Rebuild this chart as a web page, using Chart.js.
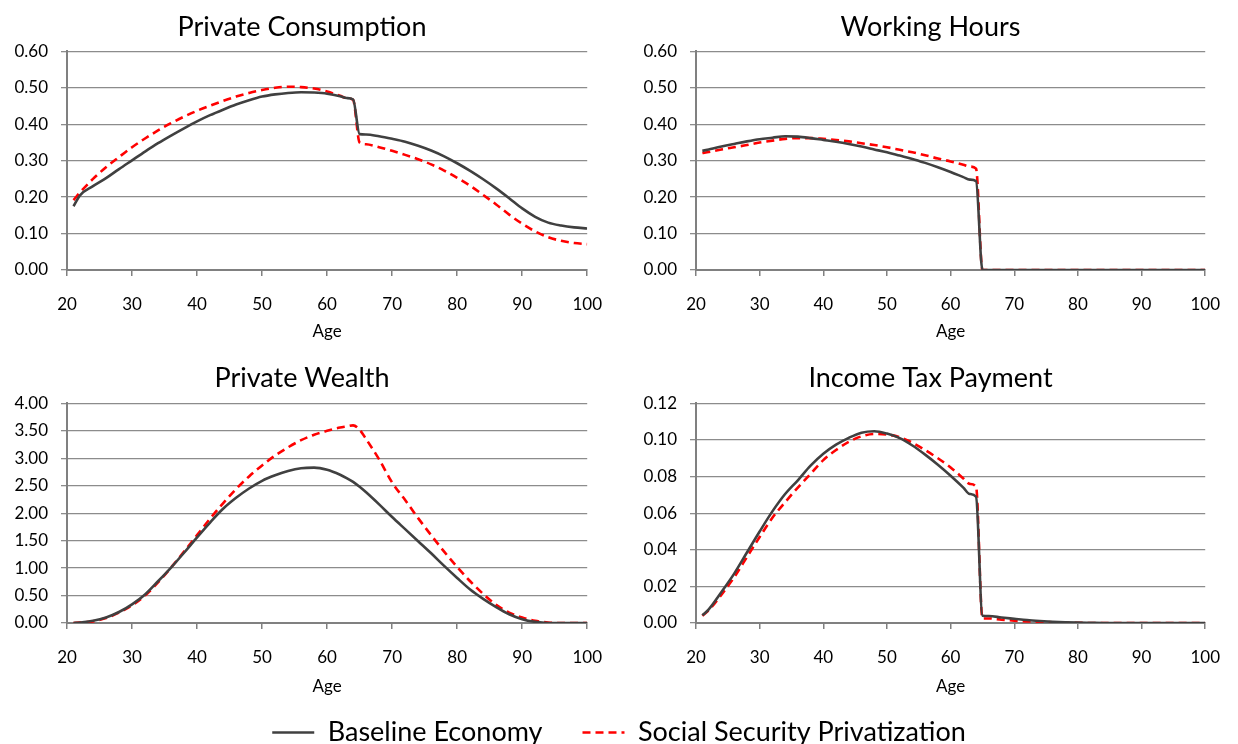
<!DOCTYPE html>
<html>
<head>
<meta charset="utf-8">
<script src="https://cdn.jsdelivr.net/npm/chart.js@4.4.1/dist/chart.umd.min.js"></script>
<style>
  body { margin: 0; background: #fff; width: 1238px; height: 744px; overflow: hidden; position: relative; }
  canvas { position: absolute; }
</style>
</head>
<body>
<canvas id="c1" width="608" height="350" style="left:12px;top:0"></canvas>
<canvas id="c2" width="598" height="350" style="left:640px;top:0"></canvas>
<canvas id="c3" width="608" height="355" style="left:12px;top:350px"></canvas>
<canvas id="c4" width="598" height="355" style="left:640px;top:350px"></canvas>
<canvas id="leg" width="1238" height="65" style="left:0;top:679px"></canvas>
<script>
const ages = [21,22,24,26,28,30,32,34,36,38,40,42,44,46,48,50,52,54,56,58,60,62,63,64,
              65,66,68,70,72,74,76,78,80,82,84,86,88,90,92,94,96,98,100];

const seriesNames = ["Baseline Economy", "Social Security Privatization"];

// Private Consumption
const consBase = [0.175,0.205,0.230,0.252,0.277,0.301,0.325,0.348,0.369,0.389,0.408,0.425,0.440,0.454,0.466,0.476,0.482,0.486,0.488,0.487,0.484,0.477,0.472,0.468,
                  0.373,0.372,0.367,0.360,0.352,0.341,0.328,0.312,0.293,0.272,0.249,0.224,0.197,0.169,0.146,0.130,0.122,0.117,0.114];
const consPriv = [0.192,0.213,0.250,0.282,0.310,0.337,0.361,0.383,0.403,0.421,0.437,0.451,0.464,0.476,0.486,0.494,0.500,0.503,0.502,0.498,0.490,0.478,0.472,0.467,
                  0.350,0.345,0.337,0.327,0.316,0.304,0.290,0.273,0.253,0.231,0.206,0.180,0.152,0.127,0.106,0.090,0.080,0.074,0.071];

// Working Hours
const hoursBase = [0.327,0.331,0.339,0.346,0.353,0.359,0.363,0.367,0.366,0.362,0.357,0.352,0.346,0.339,0.331,0.323,0.314,0.305,0.294,0.282,0.269,0.255,0.248,0.244,
                   0,0,0,0,0,0,0,0,0,0,0,0,0,0,0,0,0,0,0];
const hoursPriv = [0.321,0.324,0.331,0.337,0.343,0.350,0.355,0.360,0.362,0.362,0.360,0.357,0.353,0.348,0.343,0.337,0.330,0.323,0.315,0.306,0.298,0.289,0.284,0.278,
                   0,0,0,0,0,0,0,0,0,0,0,0,0,0,0,0,0,0,0];

// Private Wealth
const wealthBase = [0.00,0.01,0.04,0.10,0.20,0.34,0.52,0.76,1.01,1.28,1.56,1.83,2.08,2.28,2.45,2.59,2.69,2.77,2.82,2.83,2.79,2.70,2.64,2.57,
                    2.48,2.38,2.16,1.93,1.71,1.49,1.27,1.04,0.82,0.61,0.44,0.29,0.16,0.07,0.02,0.00,0,0,0];
const wealthPriv = [0.00,0.01,0.03,0.09,0.19,0.32,0.50,0.74,1.01,1.30,1.60,1.90,2.18,2.44,2.67,2.87,3.05,3.20,3.33,3.43,3.50,3.56,3.58,3.60,
                    3.52,3.35,2.98,2.56,2.24,1.91,1.60,1.30,1.02,0.76,0.53,0.33,0.19,0.10,0.04,0.01,0,0,0];

// Income Tax Payment
const taxBase = [0.0042,0.0075,0.0170,0.0270,0.0385,0.0500,0.0610,0.0705,0.0780,0.0860,0.0925,0.0975,0.1012,0.1040,0.1048,0.1035,0.1010,0.0970,0.0920,0.0865,0.0805,0.0740,0.0705,0.0690,
                 0.0040,0.0038,0.0030,0.0023,0.0016,0.0011,0.0007,0.0004,0.0002,0.0001,0,0,0,0,0,0,0,0,0];
const taxPriv = [0.0040,0.0070,0.0155,0.0250,0.0360,0.0470,0.0575,0.0660,0.0740,0.0815,0.0890,0.0945,0.0990,0.1020,0.1033,0.1030,0.1015,0.0985,0.0945,0.0900,0.0850,0.0790,0.0760,0.0745,
                 0.0025,0.0025,0.0018,0.0013,0.0009,0.0006,0.0004,0.0002,0.0001,0,0,0,0,0,0,0,0,0,0];

const FONT = "Lato, 'Open Sans', sans-serif";
const GRID = "#8c8c8c";
const AXIS = "#808080";
const BLACK = "#404040";
const RED = "#ff0000";
const PLOT_W = 525;

function pts(vals) {
  return ages.map((a, i) => ({ x: a, y: vals[i] }));
}

function lineSets(base, priv) {
  return [
    { label: seriesNames[0], data: pts(base), borderColor: BLACK, borderWidth: 2.6,
      pointRadius: 0, cubicInterpolationMode: "monotone", pointStyle: "line" },
    { label: seriesNames[1], data: pts(priv), borderColor: RED, borderWidth: 2.6, borderDash: [8, 5],
      pointRadius: 0, cubicInterpolationMode: "monotone", pointStyle: "line" }
  ];
}

function panel(id, title, base, priv, yMax, yStep, yWidth, top) {
  const ctx = document.getElementById(id);
  const W = ctx.width;
  return new Chart(ctx, {
    type: "line",
    data: { datasets: lineSets(base, priv) },
    options: {
      responsive: false,
      animation: false,
      devicePixelRatio: 1,
      layout: { padding: { left: 0, right: W - yWidth - PLOT_W, top: 0, bottom: 4 } },
      plugins: {
        legend: { display: false },
        tooltip: { enabled: false },
        title: {
          display: true, text: title, color: "#000",
          font: { family: FONT, size: 27, weight: "normal" },
          padding: top ? { top: 11, bottom: 8 } : { top: 12, bottom: 9 }
        }
      },
      scales: {
        x: {
          type: "linear", min: 20, max: 100,
          ticks: { stepSize: 10, color: "#000", padding: 18, font: { family: FONT, size: 17 } },
          grid: { drawOnChartArea: false, drawTicks: true, tickLength: 6, color: AXIS, lineWidth: 1.5 },
          border: { display: true, color: AXIS, width: 2 },
          title: { display: true, text: "Age", color: "#000", font: { family: FONT, size: 17 }, padding: { top: 4, bottom: 4 } },
          afterFit: s => { s.height = top ? 76 : 78; }
        },
        y: {
          min: 0, max: yMax,
          ticks: { stepSize: yStep, color: "#000", padding: 13, font: { family: FONT, size: 17 },
                   callback: v => v.toFixed(2) },
          grid: { color: GRID, lineWidth: 1.3, tickLength: 6 },
          border: { display: true, color: AXIS, width: 2 },
          afterFit: s => { s.width = yWidth; }
        }
      }
    }
  });
}

panel("c1", "Private Consumption", consBase, consPriv, 0.6, 0.1, 55, true);
panel("c2", "Working Hours", hoursBase, hoursPriv, 0.6, 0.1, 56, true);
panel("c3", "Private Wealth", wealthBase, wealthPriv, 4, 0.5, 55, false);
panel("c4", "Income Tax Payment", taxBase, taxPriv, 0.12, 0.02, 56, false);

// shared legend along the bottom
new Chart(document.getElementById("leg"), {
  type: "line",
  data: { datasets: lineSets([], []) },
  options: {
    responsive: false,
    animation: false,
    devicePixelRatio: 1,
    layout: { padding: 0 },
    scales: { x: { display: false }, y: { display: false } },
    plugins: {
      tooltip: { enabled: false },
      legend: {
        display: true, position: "top", maxHeight: 100,
        labels: {
          usePointStyle: true, pointStyle: "line", pointStyleWidth: 42, boxHeight: 20,
          padding: 40, color: "#000", font: { family: FONT, size: 27 },
          generateLabels: chart => {
            const items = Chart.defaults.plugins.legend.labels.generateLabels(chart);
            items.forEach((it, i) => {
              const ds = chart.data.datasets[i];
              it.strokeStyle = ds.borderColor;
              it.lineWidth = 2.6;
              it.lineDash = ds.borderDash || [];
            });
            return items;
          }
        }
      }
    }
  }
});
</script>
</body>
</html>
